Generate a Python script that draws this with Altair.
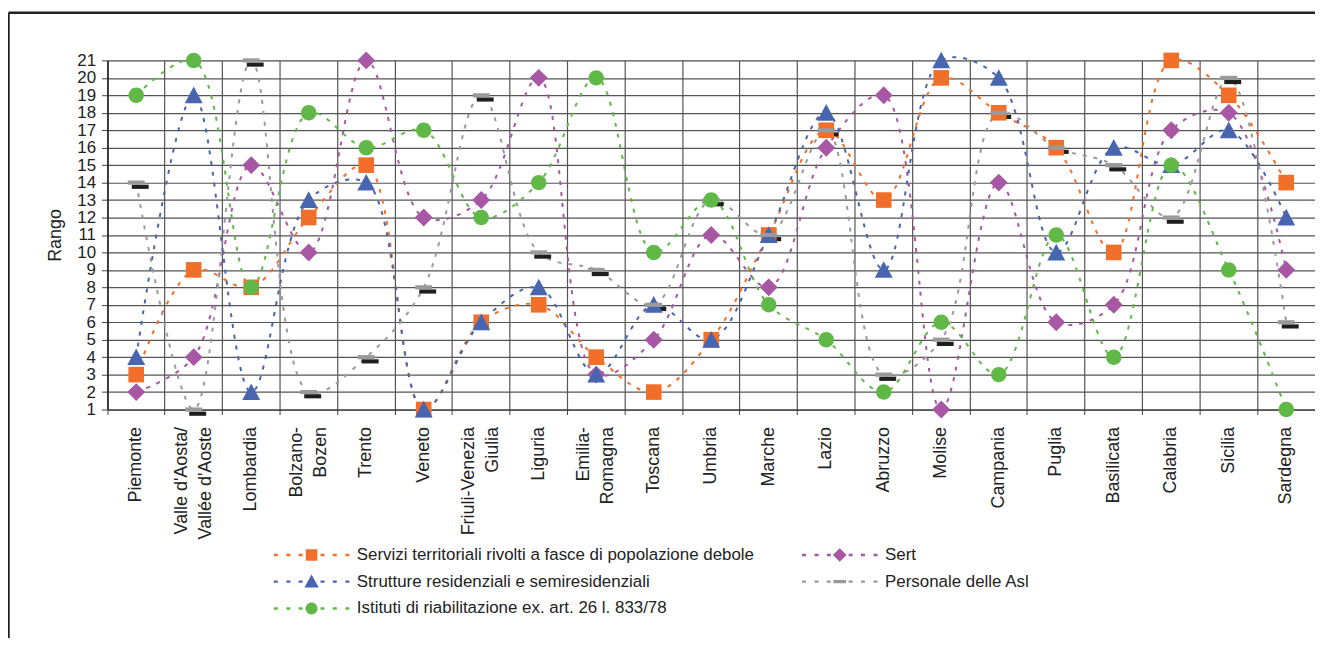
import altair as alt
import pandas as pd

# ---------------- data ----------------
regions = [
    "Piemonte", "Valle d'Aosta/\nVallée d'Aoste", "Lombardia", "Bolzano-\nBozen",
    "Trento", "Veneto", "Friuli-Venezia\nGiulia", "Liguria", "Emilia-\nRomagna",
    "Toscana", "Umbria", "Marche", "Lazio", "Abruzzo", "Molise", "Campania",
    "Puglia", "Basilicata", "Calabria", "Sicilia", "Sardegna",
]

series_names = [
    "Servizi territoriali rivolti a fasce di popolazione debole",
    "Sert",
    "Strutture residenziali e semiresidenziali",
    "Personale delle Asl",
    "Istituti di riabilitazione ex. art. 26 l. 833/78",
]

servizi = [3, 9, 8, 12, 15, 1, 6, 7, 4, 2, 5, 11, 17, 13, 20, 18, 16, 10, 21, 19, 14]
sert = [2, 4, 15, 10, 21, 12, 13, 20, 3, 5, 11, 8, 16, 19, 1, 14, 6, 7, 17, 18, 9]
strutture = [4, 19, 2, 13, 14, 1, 6, 8, 3, 7, 5, 11, 18, 9, 21, 20, 10, 16, 15, 17, 12]
personale = [14, 1, 21, 2, 4, 8, 19, 10, 9, 7, 13, 11, 17, 3, 5, 18, 16, 15, 12, 20, 6]
istituti = [19, 21, 8, 18, 16, 17, 12, 14, 20, 10, 13, 7, 5, 2, 6, 3, 11, 4, 15, 9, 1]

series_values = [servizi, sert, strutture, personale, istituti]

colors = ["#F26F2A", "#A757A3", "#4766AF", "#9A9A9C", "#60B947"]

rows = []
for s_idx, (name, vals) in enumerate(zip(series_names, series_values)):
    for r, v in zip(regions, vals):
        rows.append({"region": r, "rango": v, "series": name, "order": s_idx})
df = pd.DataFrame(rows)

# ---------------- marker shapes ----------------
# chart markers (unit = 5 px with size 100)
chart_paths = [
    "M-1.57,-1.57L1.57,-1.57L1.57,1.57L-1.57,1.57Z",                 # square
    "M0,-1.8L1.8,0L0,1.8L-1.8,0Z",                                   # diamond
    "M0,-1.75L1.8,1.6L-1.8,1.6Z",                                    # triangle
    "M-1.7,-0.42L1.7,-0.42L1.7,0.42L-1.7,0.42Z",                     # dash
    "M-1.55,0A1.55,1.55 0 1,0 1.55,0A1.55,1.55 0 1,0 -1.55,0Z",      # circle
]
shadow_path = "M-0.9,0.42L2.5,0.42L2.5,1.26L-0.9,1.26Z"

# legend symbols: dashed line + marker (unit = 6 px with size 144)
dashes = (
    "M-6.33,-0.2L-5.67,-0.2L-5.67,0.2L-6.33,0.2Z"
    "M-4.22,-0.2L-3.55,-0.2L-3.55,0.2L-4.22,0.2Z"
    "M-2.17,-0.2L-1.5,-0.2L-1.5,0.2L-2.17,0.2Z"
    "M1.5,-0.2L2.17,-0.2L2.17,0.2L1.5,0.2Z"
    "M3.55,-0.2L4.22,-0.2L4.22,0.2L3.55,0.2Z"
    "M5.67,-0.2L6.33,-0.2L6.33,0.2L5.67,0.2Z"
)
legend_paths = [
    dashes + "M-0.97,-0.97L0.97,-0.97L0.97,0.97L-0.97,0.97Z",
    dashes + "M0,-1.15L1.15,0L0,1.15L-1.15,0Z",
    dashes + "M0,-1.2L1.2,1L-1.2,1Z",
    dashes + "M-1.05,-0.28L1.05,-0.28L1.05,0.28L-1.05,0.28Z",
    dashes + "M-1,0A1,1 0 1,0 1,0A1,1 0 1,0 -1,0Z",
]

FONT = "Liberation Sans"
W, H = 1214, 351

x_enc = alt.X(
    "region:N",
    sort=regions,
    scale=alt.Scale(type="band", domain=regions, paddingInner=0, paddingOuter=0),
    axis=alt.Axis(
        title=None,
        bandPosition=0,
        labelAngle=-90,
        labelFontSize=18,
        labelLineHeight=24,
        labelPadding=12,
        labelColor="#222",
        labelFont=FONT,
        labelOverlap=False,
        labelLimit=0,
        labelExpr="split(datum.label, '\\n')",
        labelOffset={
            "condition": {"test": "indexof(datum.value, '\\n') >= 0", "value": -12},
            "value": 0,
        },
        tickSize=5,
        tickColor="#444",
        grid=True,
        gridColor="#555",
        gridWidth=1.2,
        domainColor="#333",
    ),
)
y_enc = alt.Y(
    "rango:Q",
    scale=alt.Scale(domain=[1, 21], nice=False, zero=False),
    axis=alt.Axis(
        title="Rango",
        titleFontSize=18,
        titleFont=FONT,
        titleFontWeight="normal",
        titleColor="#222",
        titlePadding=12,
        values=list(range(1, 22)),
        labelFontSize=17,
        labelFont=FONT,
        labelColor="#222",
        labelPadding=6,
        tickSize=6,
        tickColor="#444",
        grid=True,
        gridColor="#555",
        gridWidth=1.2,
        domainColor="#222",
        domainWidth=1.5,
    ),
)

base = alt.Chart(df)

lines = base.mark_line(
    interpolate="catmull-rom", strokeDash=[4, 7], strokeWidth=2
).encode(
    x=x_enc,
    y=y_enc,
    color=alt.Color("series:N", scale=alt.Scale(domain=series_names, range=colors), legend=None),
    detail="series:N",
    order="order:Q",
)

shadow = base.transform_filter(
    alt.datum.series == "Personale delle Asl"
).mark_point(
    shape=shadow_path, filled=True, opacity=1, size=100, color="#1e1e1e", strokeWidth=0
).encode(x=x_enc, y=y_enc)

points = base.mark_point(filled=True, opacity=1, size=100, strokeWidth=0).encode(
    x=x_enc,
    y=y_enc,
    color=alt.Color("series:N", scale=alt.Scale(domain=series_names, range=colors), legend=None),
    shape=alt.Shape("series:N", scale=alt.Scale(domain=series_names, range=chart_paths), legend=None),
    order="order:Q",
)

legend_def = alt.Legend(
    title=None,
    orient="none",
    legendX=196.7,
    legendY=488.5,
    columns=2,
    direction="horizontal",
    symbolSize=144,
    symbolStrokeWidth=0,
    symbolOpacity=1,
    labelOffset=37,
    labelFontSize=17,
    labelFont=FONT,
    labelColor="#222",
    labelLimit=800,
    rowPadding=9,
    columnPadding=47,
    padding=0,
)

legend_layer = base.transform_filter("false").mark_point(
    filled=True, opacity=1, size=144
).encode(
    x=x_enc,
    y=y_enc,
    color=alt.Color("series:N", scale=alt.Scale(domain=series_names, range=colors), legend=legend_def),
    shape=alt.Shape("series:N", scale=alt.Scale(domain=series_names, range=legend_paths), legend=legend_def),
)

frame_df = pd.DataFrame({"k": [0]})
border_left = alt.Chart(frame_df).mark_rule(color="#222", strokeWidth=2.5).encode(
    x=alt.value(-99.5), y=alt.value(-47.8), y2=alt.value(700)
)
border_top = alt.Chart(frame_df).mark_rule(color="#222", strokeWidth=2.5).encode(
    x=alt.value(-99.5), x2=alt.value(1400), y=alt.value(-47.8)
)

chart = alt.layer(
    border_left, border_top, lines, shadow, points, legend_layer
).resolve_scale(
    color="independent", shape="independent"
).properties(
    width=W,
    height=H,
    autosize=alt.AutoSizeParams(type="none"),
    padding={"left": 100, "top": 51, "right": 0, "bottom": 228},
    background="white",
).configure_view(
    stroke="#777", strokeWidth=1.5
).configure(font=FONT)

chart.save("out.html", embed_options={"renderer": "svg", "actions": False})
